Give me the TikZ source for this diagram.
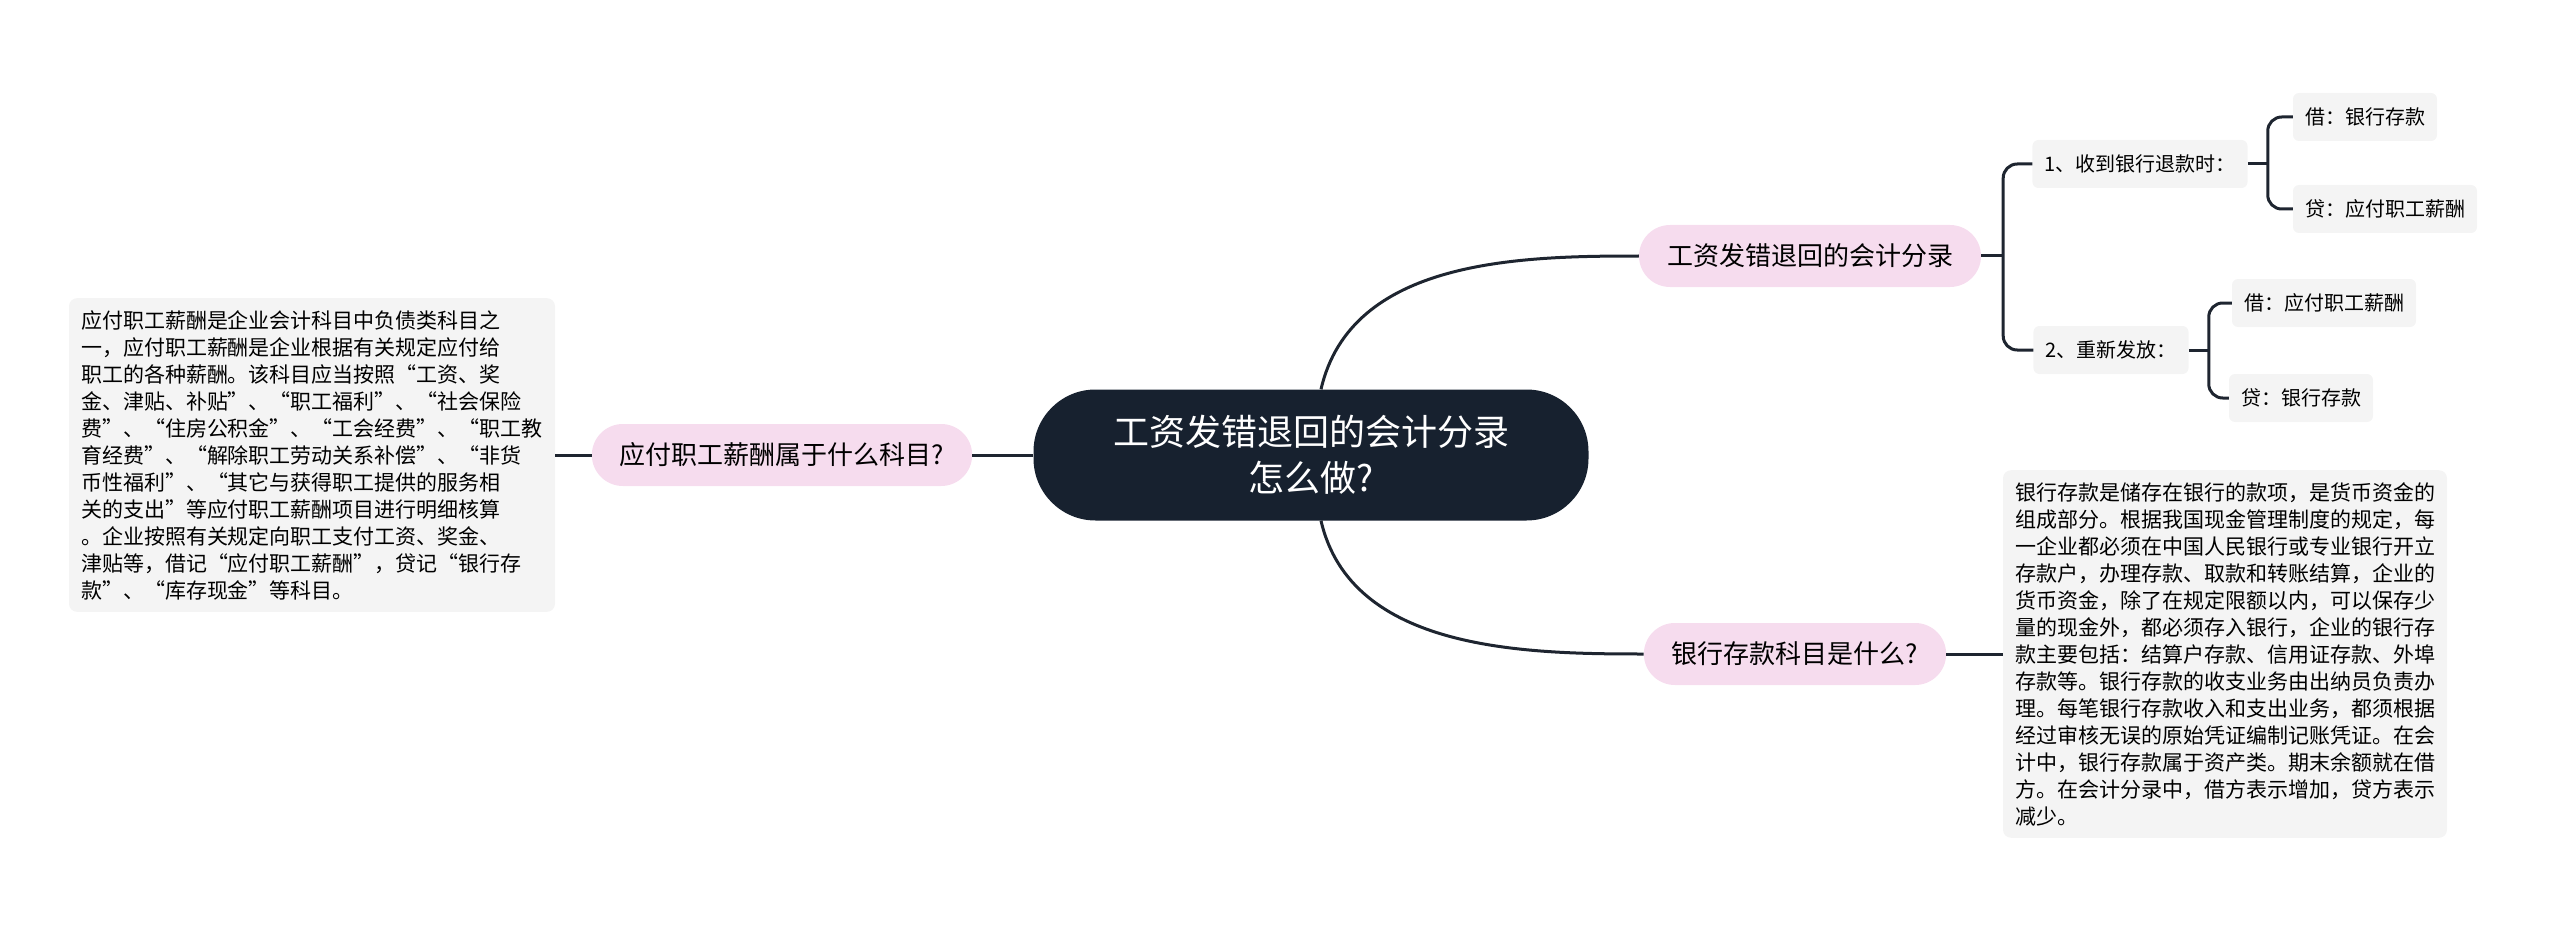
\documentclass[tikz,border=0pt]{standalone}
\usepackage{fontspec}
\setmainfont{Noto Sans CJK SC}
\usetikzlibrary{positioning}
\definecolor{rootfill}{HTML}{17212F}
\definecolor{pinkfill}{HTML}{F6DCEE}
\definecolor{boxfill}{HTML}{F4F4F4}
\definecolor{linec}{HTML}{1E2530}
\tikzset{
  root/.style={fill=rootfill,text=white,rounded corners=62pt,minimum width=555pt,minimum height=131pt,align=center,font=\fontsize{36}{46}\selectfont},
  branch/.style={fill=pinkfill,rounded corners=31pt,minimum height=62pt,inner xsep=28pt,font=\fontsize{26}{30}\selectfont},
  leaf/.style={fill=boxfill,rounded corners=6pt,minimum height=48pt,inner xsep=12pt,font=\fontsize{20}{24}\selectfont},
  textbox/.style={fill=boxfill,rounded corners=8pt,align=left,inner sep=12pt,font=\fontsize{21}{27}\selectfont},
  link/.style={draw=linec,line width=3pt},
  brace/.style={link,rounded corners=14pt}
}
\begin{document}
\begin{tikzpicture}[x=1pt,y=-1pt]
\useasboundingbox (0,0) rectangle (2560,928);
\node[root] (root) at (1311,455) {工资发错退回的会计分录\\怎么做?};
\node[branch] (b1) at (1810,256) {工资发错退回的会计分录};
\node[branch] (b2) at (1795,654) {银行存款科目是什么?};
\node[branch] (b3) at (782,455) {应付职工薪酬属于什么科目?};
\node[textbox] (t3) at (312,455) {应付职工薪酬是企业会计科目中负债类科目之\\一，应付职工薪酬是企业根据有关规定应付给\\职工的各种薪酬。该科目应当按照“工资、奖\\金、津贴、补贴”、“职工福利”、“社会保险\\费”、“住房公积金”、“工会经费”、“职工教\\育经费”、“解除职工劳动关系补偿”、“非货\\币性福利”、“其它与获得职工提供的服务相\\关的支出”等应付职工薪酬项目进行明细核算\\。企业按照有关规定向职工支付工资、奖金、\\津贴等，借记“应付职工薪酬”，贷记“银行存\\款”、“库存现金”等科目。};
\node[textbox] (t2) at (2225,654) {银行存款是储存在银行的款项，是货币资金的\\组成部分。根据我国现金管理制度的规定，每\\一企业都必须在中国人民银行或专业银行开立\\存款户，办理存款、取款和转账结算，企业的\\货币资金，除了在规定限额以内，可以保存少\\量的现金外，都必须存入银行，企业的银行存\\款主要包括：结算户存款、信用证存款、外埠\\存款等。银行存款的收支业务由出纳员负责办\\理。每笔银行存款收入和支出业务，都须根据\\经过审核无误的原始凭证编制记账凭证。在会\\计中，银行存款属于资产类。期末余额就在借\\方。在会计分录中，借方表示增加，贷方表示\\减少。};
\node[leaf] (s1) at (2140,164) {1、收到银行退款时：};
\node[leaf] (s2) at (2111,350) {2、重新发放：};
\node[leaf] (l1) at (2365,117) {借：银行存款};
\node[leaf] (l2) at (2385,209) {贷：应付职工薪酬};
\node[leaf] (l3) at (2324,303) {借：应付职工薪酬};
\node[leaf] (l4) at (2301,398) {贷：银行存款};
% connectors
\draw[link] (root.north) ++(10,0) .. controls +(30,-130) and +(-120,0) .. (b1.west);
\draw[link] (root.south) ++(10,0) .. controls +(30,130) and +(-120,0) .. (b2.west);
\draw[link] (root.west) -- (b3.east);
\draw[link] (b3.west) -- (t3.east);
\draw[link] (b2.east) -- (t2.west);
\draw[link] (b1.east) -- ++(22,0) coordinate (k1);
\draw[brace] (s1.west) -| (k1) |- (s2.west);
\draw[link] (s1.east) -- ++(20,0) coordinate (k2);
\draw[brace] (l1.west) -| (k2) |- (l2.west);
\draw[link] (s2.east) -- ++(20,0) coordinate (k3);
\draw[brace] (l3.west) -| (k3) |- (l4.west);
\end{tikzpicture}
\end{document}
